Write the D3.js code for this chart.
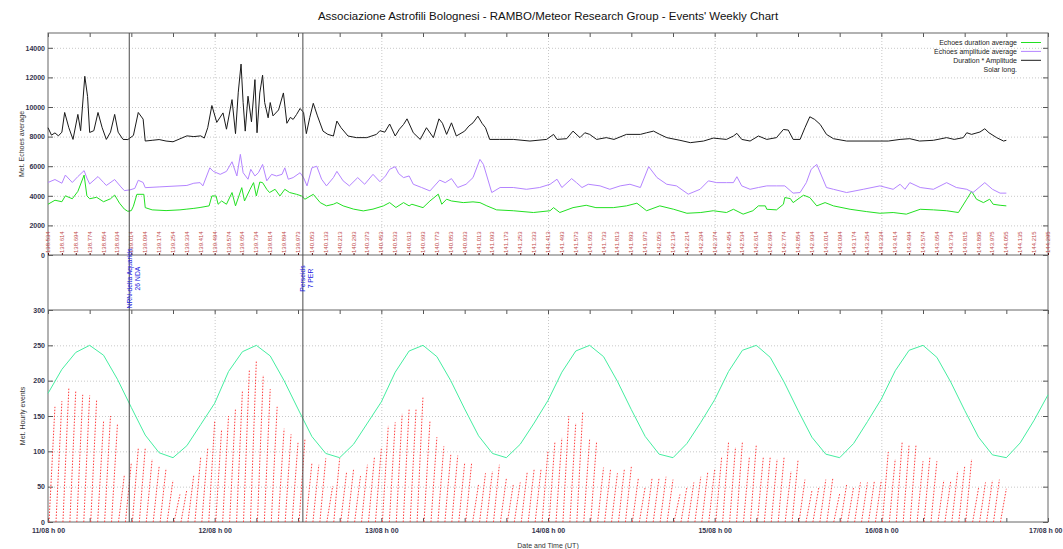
<!DOCTYPE html>
<html>
<head>
<meta charset="utf-8">
<script src="https://cdn.jsdelivr.net/npm/d3@7"></script>
<style>
  body { margin: 0; background: #fff; }
  svg { display: block; font-family: "Liberation Sans", Arial, sans-serif; }
</style>
</head>
<body>
<div id="chart"></div>
<script>
// ---- data (hours counted from 11/08 00:00 UT) ----
const dayLabels = ["11/08 h 00", "12/08 h 00", "13/08 h 00", "14/08 h 00", "15/08 h 00", "16/08 h 00", "17/08 h 00"];
const topTicks = [0, 2000, 4000, 6000, 8000, 10000, 12000, 14000];
const botTicks = [0, 50, 100, 150, 200, 250, 300];

// Duration * Amplitude  [hour, value]
const durAmp = [[0,8600],[0.5,8100],[1,8250],[1.5,8050],[2,8300],[2.4,9630],[3,8600],[3.6,7810],[4.3,9500],[4.7,8400],[5.3,12075],[5.7,10700],[6,8280],[6.6,8400],[7.2,9630],[7.8,8600],[8.4,7810],[9,8300],[9.6,9500],[10.1,8300],[10.8,7810],[11.5,7800],[12.3,8080],[13,9630],[13.7,9180],[14,7700],[15,7750],[16,7800],[17,7700],[18,7650],[19,7850],[20,8050],[21,8000],[22,8050],[22.5,7900],[23,8600],[23.6,10100],[24.3,8960],[25.2,9600],[25.7,8500],[26.5,10500],[27,8200],[27.4,11000],[27.8,12900],[28.1,10300],[28.4,8370],[28.8,10730],[29.3,9000],[29.8,11850],[30.1,8260],[30.5,10950],[30.9,12150],[31.2,10300],[31.7,9270],[32,10300],[32.4,9400],[33.2,9800],[33.9,10950],[34.4,8900],[34.9,9300],[35.3,9160],[35.8,9500],[36.3,9900],[36.8,9630],[37.2,8200],[37.7,9300],[38.2,10250],[38.8,9400],[39.6,8370],[40.3,8150],[41.1,8040],[41.6,9050],[42.2,8600],[43.2,8040],[44.4,7930],[45.9,7930],[47.3,8150],[47.8,8400],[48.5,8300],[49.2,8850],[50,8040],[50.6,8500],[51.2,8820],[51.7,9200],[52.6,8260],[53.6,7810],[54.5,8600],[55.5,7930],[56.3,9200],[56.8,8900],[57.4,8150],[58.1,8930],[58.8,8040],[60,8370],[60.6,8710],[61.2,8930],[61.9,9380],[62.5,8900],[63,8600],[63.6,7810],[65,7810],[67,7810],[69.4,7700],[71.8,7810],[72.8,8150],[73.3,7810],[74.7,7860],[75.6,8370],[76.6,7930],[77.3,8260],[78,8150],[79,7810],[80.4,7930],[81.5,7810],[83.3,8150],[85.3,8150],[86.2,8260],[87.2,8370],[88.1,8150],[89.1,7930],[91,7750],[92.5,7590],[94.4,7700],[95.8,7900],[97.7,7810],[98.7,8040],[99.2,8220],[99.9,7810],[101.1,7700],[102.3,8040],[103.5,7810],[104.9,7930],[105.9,8480],[106.6,8440],[107.3,7810],[108.3,7810],[109,8600],[109.7,9340],[110.4,9160],[111.2,8820],[112.1,8150],[113.1,7860],[115,7700],[117.5,7700],[119.8,7700],[121,7700],[122.7,7810],[124.1,7860],[125.5,7700],[127.5,7750],[129.4,7930],[130.5,7810],[131.8,7930],[132.3,8260],[133,8150],[134.2,8310],[134.9,8530],[135.5,8260],[136.6,7930],[137.6,7700],[138,7750]];

// Echoes amplitude average
const ampAvg = [[0,4900],[1,5100],[2,4850],[2.5,5400],[3.5,4900],[4.3,5300],[5.2,5700],[5.6,5200],[6,4800],[7.2,5300],[8,4900],[8.4,4700],[9.6,5100],[10.5,4600],[11,4350],[11.8,4400],[12.5,4500],[13,5050],[13.7,4900],[14,4550],[16,4600],[18,4650],[20,4700],[21,4850],[21.9,4890],[22.3,4670],[23.3,5890],[23.8,5650],[24.8,5450],[25.7,5650],[26.5,6300],[27.2,5340],[27.7,6800],[28.1,5560],[28.8,5120],[29.2,5790],[29.8,5340],[30.3,5560],[30.9,6120],[31.5,5010],[32.2,5450],[32.9,5340],[33.7,5450],[34.1,5890],[34.6,5120],[35.3,5230],[36.3,5560],[36.8,5230],[37.3,4670],[38,5890],[38.7,6000],[39.4,5120],[40.1,4670],[41.1,5230],[41.6,5650],[42.5,5010],[43.4,4670],[44.6,5230],[45.6,4780],[46.8,5450],[47.8,4950],[48.6,5340],[49.2,5790],[50,5970],[50.5,5500],[51.2,5230],[52,5340],[52.6,4780],[53.8,4560],[55,4330],[56.4,5060],[57.2,4890],[58.1,5160],[59,4560],[60.2,4780],[61.2,5230],[62.2,6460],[62.7,6120],[63.9,4220],[65.1,4560],[67,4560],[68.9,4440],[70.8,4560],[72.3,4780],[73.3,5120],[74,4560],[75.4,5160],[76.1,4890],[76.9,4560],[77.8,4780],[79.5,4670],[80.9,4440],[82.4,4670],[83.8,4780],[85.3,4560],[86.5,5970],[87.7,5230],[89.1,4780],[90.5,4670],[92.2,4110],[93.9,4440],[95.1,5010],[96.3,4890],[97.7,4890],[98.7,4890],[99.2,5290],[99.9,4670],[101.1,4440],[102.3,4560],[103.5,4670],[104.9,4670],[106.1,4670],[107.3,4180],[108.3,4220],[109.2,4890],[109.9,5790],[110.7,6120],[111.4,5340],[112.1,4560],[113.1,4440],[115,4220],[117.4,4440],[119.8,4670],[121.7,4440],[122.7,4780],[123.4,4440],[124.1,4890],[125.6,4560],[127.5,4440],[129.4,4890],[130.8,4560],[132.3,4440],[133.2,4220],[134.9,4890],[136,4440],[137.1,4180],[138,4180]];

// Echoes duration average
const durAvg = [[0,3430],[1,3700],[2,3600],[2.5,4000],[3.5,3800],[4.3,4300],[5.2,5400],[5.6,4000],[6,3800],[7,3900],[8,3600],[9,3800],[9.6,4050],[10.3,3500],[11,3100],[11.5,2950],[12,3000],[12.3,3300],[12.8,4100],[13.8,4100],[14,3200],[15,3050],[17,3000],[19,3050],[20,3100],[21,3150],[21.9,3210],[23.2,3320],[23.6,3990],[24.2,3990],[24.5,3430],[25,3650],[25.7,3430],[26.5,4220],[27,3320],[27.9,4550],[28.3,3650],[29.1,4440],[29.6,4890],[30,3990],[30.5,4930],[30.9,4890],[31.5,4440],[31.9,4220],[32.7,4440],[33.4,3990],[34.1,4440],[34.8,4220],[35.8,4100],[36.5,3990],[37,3770],[38.2,4100],[39.2,3540],[40.1,3320],[41.1,3430],[41.6,3540],[42.5,3320],[44,3100],[45.4,2980],[46.8,3100],[48.3,3320],[49.2,3540],[50.1,3210],[51.2,3540],[52,3320],[52.4,3430],[54,3200],[55,3650],[56.2,4110],[56.7,3430],[57.4,3770],[58.1,3650],[59.8,3540],[61.2,3590],[62.2,3540],[63.2,3320],[64.6,3050],[67,2990],[69.9,2870],[72.3,2990],[72.8,3200],[73.7,2870],[75.6,3200],[77.5,3360],[78.9,3200],[81.4,3200],[83.3,3320],[84.8,3500],[86.2,2990],[88.1,3320],[90.1,3090],[92,2820],[94,2870],[95.8,2990],[97.7,2870],[98.7,3090],[100.1,2760],[101.5,2990],[102.3,3320],[103.3,3320],[103.5,3090],[104.9,3050],[105.9,3430],[106.1,3880],[106.9,3810],[107.3,3540],[108.3,3880],[108.8,4040],[109.7,3880],[110.7,3320],[111.9,3540],[113.1,3320],[115.5,3090],[117.9,2930],[119.8,2820],[121.7,2870],[123.6,2760],[125.6,3090],[127.5,3050],[129.4,2990],[131.1,2870],[132.3,3770],[133,4300],[133.7,3770],[134.7,3540],[135.6,3770],[136.1,3430],[137.1,3360],[138,3320]];

// Meteor hourly counts, hour 0 .. 137
const hourlyEvents = [163,171,189,186,180,179,172,142,150,138,67,
  84,104,104,89,78,76,59,39,46,67,93,104,142,131,150,161,186,216,
  228,208,188,163,132,124,112,117,83,81,90,51,90,71,74,65,81,91,104,136,141,153,159,160,178,142,120,107,95,94,83,83,53,69,72,81,61,
  53,56,70,74,75,101,114,119,150,140,156,118,114,77,74,69,75,78,61,50,63,63,64,60,39,49,
  56,64,70,74,91,113,106,114,92,110,91,92,89,92,72,87,60,44,49,60,61,40,53,
  49,56,56,58,59,99,89,113,110,110,86,92,86,59,58,72,78,89,48,56,59,60,47];

// reference hourly curve, one value every 2 hours (hour 0 .. 144)
const refCurve = [182,216,240,250,236,202,162,123,98,91,108,138,
  168,213,241,250,235,200,160,121,97,91,110,140,
  170,212,242,250,234,200,160,122,97,91,110,140,
  172,212,242,250,234,199,159,121,96,91,111,141,
  173,213,243,250,233,198,158,120,96,91,111,142,
  174,214,243,250,233,198,158,120,95,91,112,144,
  180];

// solar longitude, one label every 2 hours
const solarLong = ["138.534","138.614","138.694","138.774","138.854","138.934","139.014","139.094","139.174","139.254","139.334","139.414","139.494","139.574","139.654","139.734","139.814","139.894","139.973","140.053","140.133","140.213","140.293","140.373","140.453","140.533","140.613","140.693","140.773","140.853","140.933","141.013","141.093","141.173","141.253","141.333","141.413","141.493","141.573","141.653","141.733","141.813","141.893","141.973","142.053","142.134","142.214","142.294","142.374","142.454","142.534","142.614","142.694","142.774","142.854","142.934","143.014","143.094","143.174","143.254","143.334","143.414","143.494","143.574","143.654","143.734","143.815","143.895","143.975","144.055","144.135","144.215","144.295"];

// shower events
const eventHours = [11.7, 36.7];
const eventNames = [["NRN-delta Aquarids", "26 NDA"], ["Perseids", "7 PER"]];

// ---- chart ----
const W = 1063, H = 549;
const svg = d3.select("#chart").append("svg").attr("width", W).attr("height", H);

const x = d3.scaleLinear().domain([0, 144]).range([48, 1048]);
const yTop = d3.scaleLinear().domain([0, 15000]).range([255, 33]);
const yBot = d3.scaleLinear().domain([0, 300]).range([522, 310]);

const tickCol = "#33334d";
const gridCol = "#c8c8c8";
const days = d3.range(0, 145, 24);
const sixHours = d3.range(0, 145, 6);

function styleAxis(g) {
  g.select(".domain").remove();
  g.selectAll("line").attr("stroke", "#555");
  g.selectAll("text").attr("fill", tickCol).attr("font-size", 7).attr("font-weight", "bold")
    .attr("font-family", "Liberation Sans, Arial, sans-serif");
}
function styleGrid(g) {
  g.select(".domain").remove();
  g.selectAll("line").attr("stroke", gridCol).attr("stroke-dasharray", "1,2");
}

// gridlines
svg.append("g").attr("transform", "translate(48,0)")
  .call(d3.axisLeft(yTop).tickValues(topTicks.slice(1)).tickSize(-1000).tickFormat(""))
  .call(styleGrid);
svg.append("g").attr("transform", "translate(0,255)")
  .call(d3.axisBottom(x).tickValues(days.slice(1, -1)).tickSize(-(255 - 33)).tickFormat(""))
  .call(styleGrid);
svg.append("g").attr("transform", "translate(48,0)")
  .call(d3.axisLeft(yBot).tickValues(botTicks.slice(1, -1)).tickSize(-1000).tickFormat(""))
  .call(styleGrid);
svg.append("g").attr("transform", "translate(0,522)")
  .call(d3.axisBottom(x).tickValues(days.slice(1, -1)).tickSize(-(522 - 310)).tickFormat(""))
  .call(styleGrid);

// y axes
svg.append("g").attr("transform", "translate(48,0)")
  .call(d3.axisLeft(yTop).tickValues(topTicks).tickSize(-5).tickPadding(3).tickFormat(d3.format("d")))
  .call(styleAxis);
svg.append("g").attr("transform", "translate(1048,0)")
  .call(d3.axisRight(yTop).tickValues(topTicks).tickSize(-5).tickFormat(""))
  .call(styleAxis);
svg.append("g").attr("transform", "translate(48,0)")
  .call(d3.axisLeft(yBot).tickValues(botTicks).tickSize(-5).tickPadding(3).tickFormat(d3.format("d")))
  .call(styleAxis);
svg.append("g").attr("transform", "translate(1048,0)")
  .call(d3.axisRight(yBot).tickValues(botTicks).tickSize(-5).tickFormat(""))
  .call(styleAxis);

// x ticks on the borders
svg.append("g").attr("transform", "translate(0,33)")
  .call(d3.axisTop(x).tickValues(sixHours).tickSize(-4).tickFormat(""))
  .call(styleAxis);
svg.append("g").attr("transform", "translate(0,310)")
  .call(d3.axisTop(x).tickValues(sixHours).tickSize(-4).tickFormat(""))
  .call(styleAxis);
svg.append("g").attr("transform", "translate(0,522)")
  .call(d3.axisBottom(x).tickValues(sixHours).tickSize(-4).tickFormat(""))
  .call(styleAxis);
svg.append("g").attr("transform", "translate(0,522)")
  .call(d3.axisBottom(x).tickValues(days).tickSize(0).tickPadding(6).tickFormat((d, i) => dayLabels[i]))
  .call(styleAxis)
  .call(g => g.selectAll(".tick").filter(d => d === 144).select("text")
    .attr("text-anchor", "end").attr("x", 1062 - x(144)));

// frame
const frame = svg.append("g").attr("stroke", "#666").attr("stroke-width", 1).attr("fill", "none");
frame.append("rect").attr("x", x(0)).attr("y", yTop(15000)).attr("width", x(144) - x(0)).attr("height", yBot(0) - yTop(15000));
frame.append("line").attr("x1", x(0)).attr("x2", x(144)).attr("y1", yTop(0)).attr("y2", yTop(0));
frame.append("line").attr("x1", x(0)).attr("x2", x(144)).attr("y1", yBot(300)).attr("y2", yBot(300));

// solar longitude labels
const solarHours = solarLong.map((d, i) => i * 2);
svg.append("g").attr("transform", "translate(0,255)")
  .call(d3.axisBottom(x).tickValues(solarHours).tickSize(-2).tickFormat(""))
  .call(g => { g.select(".domain").remove(); g.selectAll("line").attr("stroke", "#5a1010"); });
svg.append("g").selectAll("text").data(solarLong).join("text")
  .attr("transform", (d, i) => `translate(${x(solarHours[i]) + 2},253) rotate(-90)`)
  .attr("font-size", 6).attr("fill", "#c04848")
  .text(d => d);

// top panel lines
const lineTop = d3.line().x(d => x(d[0])).y(d => yTop(d[1]));
svg.append("path").datum(durAvg).attr("d", lineTop).attr("fill", "none").attr("stroke", "#22e022").attr("stroke-width", 1);
svg.append("path").datum(ampAvg).attr("d", lineTop).attr("fill", "none").attr("stroke", "#b484ff").attr("stroke-width", 1);
svg.append("path").datum(durAmp).attr("d", lineTop).attr("fill", "none").attr("stroke", "#1a1a1a").attr("stroke-width", 1);

// hourly events: running count inside each hour
svg.append("g").selectAll("line").data(hourlyEvents).join("line")
  .attr("x1", (d, i) => x(i + 0.15)).attr("y1", yBot(0))
  .attr("x2", (d, i) => x(i + 1)).attr("y2", d => yBot(d))
  .attr("stroke", "#ff3c3c").attr("stroke-width", 1).attr("stroke-dasharray", "1.5,1.5");

// reference curve
const lineBot = d3.line().x((d, i) => x(i * 2)).y(d => yBot(d));
svg.append("path").datum(refCurve).attr("d", lineBot).attr("fill", "none").attr("stroke", "#44eea0").attr("stroke-width", 1);

// shower event markers
const ev = svg.append("g");
ev.selectAll("line").data(eventHours).join("line")
  .attr("x1", d => x(d)).attr("x2", d => x(d))
  .attr("y1", yTop(15000)).attr("y2", yBot(0))
  .attr("stroke", "#4a4a4a").attr("stroke-width", 1);
eventHours.forEach((h, k) => {
  eventNames[k].forEach((t, j) => {
    ev.append("text")
      .attr("transform", `translate(${x(h) + 2.5 + j * 8},278.5) rotate(-90)`)
      .attr("text-anchor", "middle").attr("font-size", 6.8).attr("fill", "#2020e0")
      .text(t);
  });
});

// titles
svg.append("text").attr("x", 548).attr("y", 20).attr("text-anchor", "middle")
  .attr("font-size", 11.5).attr("fill", "#111")
  .text("Associazione Astrofili Bolognesi - RAMBO/Meteor Research Group - Events' Weekly Chart");
svg.append("text").attr("x", 548).attr("y", 548).attr("text-anchor", "middle")
  .attr("font-size", 7).attr("fill", "#333")
  .text("Date and Time (UT)");
svg.append("text").attr("transform", "translate(24,144) rotate(-90)").attr("text-anchor", "middle")
  .attr("font-size", 7).attr("fill", "#333").text("Met. Echoes average");
svg.append("text").attr("transform", "translate(25,416) rotate(-90)").attr("text-anchor", "middle")
  .attr("font-size", 7).attr("fill", "#333").text("Met. Hourly events");

// legend
const legendItems = [
  { name: "Echoes duration average", color: "#22e022" },
  { name: "Echoes amplitude average", color: "#b484ff" },
  { name: "Duration * Amplitude", color: "#1a1a1a" },
  { name: "Solar long.", color: null }
];
const leg = svg.append("g");
legendItems.forEach((it, i) => {
  const cy = 42.5 + i * 8.9;
  leg.append("text").attr("x", 1017).attr("y", cy + 2.5).attr("text-anchor", "end")
    .attr("font-size", 7).attr("fill", "#222").text(it.name);
  if (it.color) {
    leg.append("line").attr("x1", 1021).attr("x2", 1041).attr("y1", cy).attr("y2", cy)
      .attr("stroke", it.color).attr("stroke-width", 1);
  }
});
</script>
</body>
</html>
